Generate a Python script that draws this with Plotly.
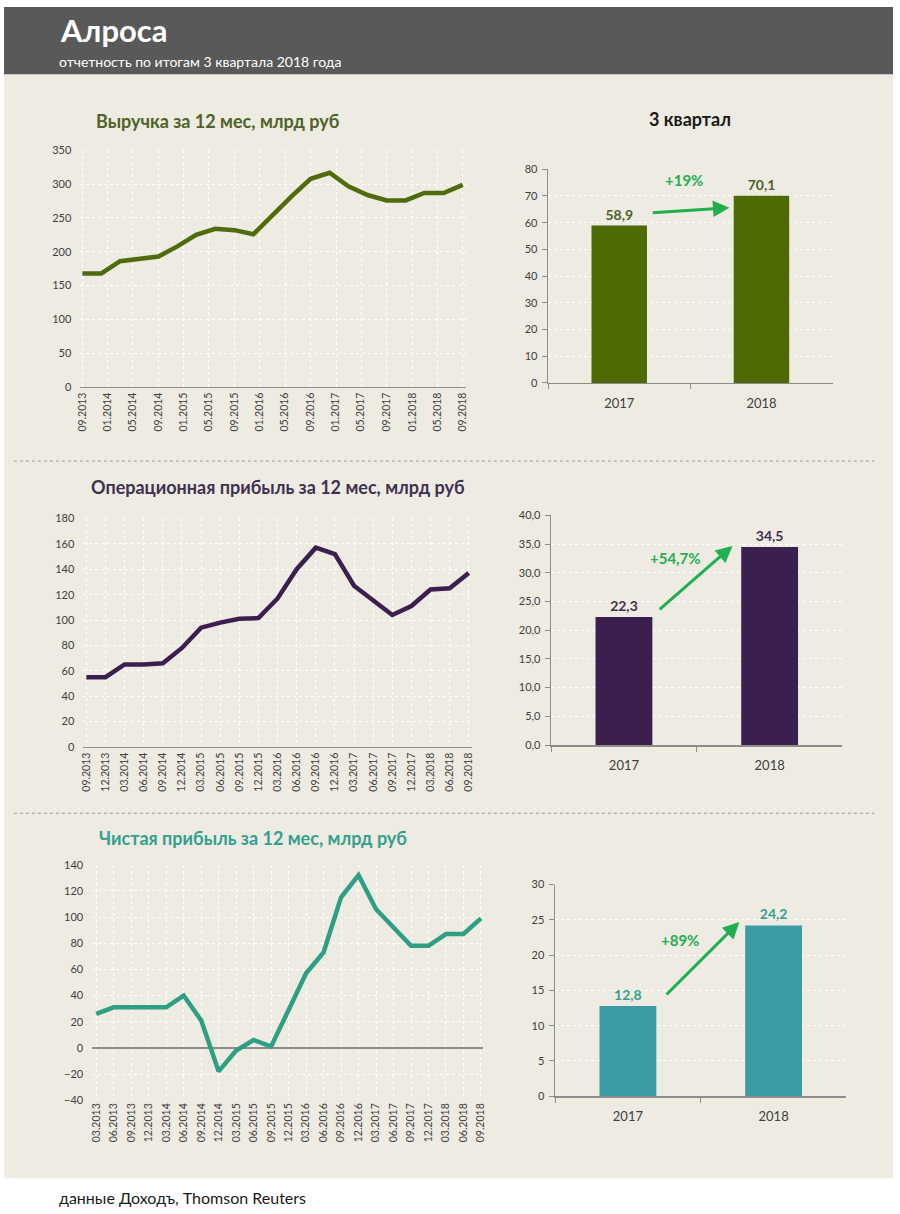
import plotly.graph_objects as go

W, H = 900, 1214
FONT = "Lato"

# ---------------- data ----------------
rev_dates = ["2013-09-01", "2013-12-01", "2014-03-01", "2014-06-01", "2014-09-01",
             "2014-12-01", "2015-03-01", "2015-06-01", "2015-09-01", "2015-12-01",
             "2016-03-01", "2016-06-01", "2016-09-01", "2016-12-01", "2017-03-01",
             "2017-06-01", "2017-09-01", "2017-12-01", "2018-03-01", "2018-06-01",
             "2018-09-01"]
rev_values = [168, 168, 186, 190, 193, 208, 225, 234, 232, 226, 255, 282, 308, 317,
              297, 284, 276, 276, 287, 287, 299]
rev_tickvals = ["2013-09-01", "2014-01-01", "2014-05-01", "2014-09-01", "2015-01-01",
                "2015-05-01", "2015-09-01", "2016-01-01", "2016-05-01", "2016-09-01",
                "2017-01-01", "2017-05-01", "2017-09-01", "2018-01-01", "2018-05-01",
                "2018-09-01"]
rev_ticktext = ["09.2013", "01.2014", "05.2014", "09.2014", "01.2015", "05.2015",
                "09.2015", "01.2016", "05.2016", "09.2016", "01.2017", "05.2017",
                "09.2017", "01.2018", "05.2018", "09.2018"]

op_cats = ["09.2013", "12.2013", "03.2014", "06.2014", "09.2014", "12.2014", "03.2015",
           "06.2015", "09.2015", "12.2015", "03.2016", "06.2016", "09.2016", "12.2016",
           "03.2017", "06.2017", "09.2017", "12.2017", "03.2018", "06.2018", "09.2018"]
op_values = [55, 55, 65, 65, 66, 78, 94, 98, 101, 101.5, 117, 140, 157, 152, 127, 116,
             104, 111, 124, 125, 137]

net_cats = ["03.2013", "06.2013", "09.2013", "12.2013", "03.2014", "06.2014", "09.2014",
            "12.2014", "03.2015", "06.2015", "09.2015", "12.2015", "03.2016", "06.2016",
            "09.2016", "12.2016", "03.2017", "06.2017", "09.2017", "12.2017", "03.2018",
            "06.2018", "09.2018"]
net_values = [26, 31, 31, 31, 31, 40, 21, -18, -2, 6, 1, 29, 57, 73, 115, 132, 106, 92,
              78, 78, 87, 87, 99]

q_years = ["2017", "2018"]
q_rev = [58.9, 70.1]
q_op = [22.3, 34.5]
q_net = [12.8, 24.2]
growth_labels = ["+19%", "+54,7%", "+89%"]

titles = ["Выручка за 12 мес, млрд руб", "Операционная прибыль за 12 мес, млрд руб",
          "Чистая прибыль за 12 мес, млрд руб", "3 квартал"]

# ---------------- style ----------------
BG = "#EEEBE2"
HEADER = "#595959"
OLIVE_LINE = "#4F6B0C"
OLIVE_BAR = "#4E6A03"
OLIVE_TXT = "#4F6228"
PURPLE = "#3B1F4F"
PURPLE_TXT = "#3F3151"
TEAL_LINE = "#2E9E84"
TEAL_BAR = "#3C9BA6"
TEAL_TXT = "#33A090"
GREEN = "#1FAF4F"
TICK = "#404040"
AXIS = "#8C8C8C"


def xd(a, b):
    return [a / W, b / W]


def yd(top, bottom):
    return [1 - bottom / H, 1 - top / H]


fig = go.Figure()

fig.add_trace(go.Scatter(x=rev_dates, y=rev_values, mode="lines",
                         line=dict(color=OLIVE_LINE, width=4.5), xaxis="x", yaxis="y"))
fig.add_trace(go.Scatter(x=op_cats, y=op_values, mode="lines",
                         line=dict(color=PURPLE, width=4.5), xaxis="x2", yaxis="y2"))
fig.add_trace(go.Scatter(x=net_cats, y=net_values, mode="lines",
                         line=dict(color=TEAL_LINE, width=4.5), xaxis="x3", yaxis="y3"))

bar_specs = [(q_rev, OLIVE_BAR, OLIVE_TXT, "x4", "y4"),
             (q_op, PURPLE, PURPLE_TXT, "x5", "y5"),
             (q_net, TEAL_BAR, TEAL_TXT, "x6", "y6")]
for vals, col, tcol, xa, ya in bar_specs:
    fig.add_trace(go.Bar(x=q_years, y=vals, marker=dict(color=col, line=dict(width=0)),
                         width=0.39, texttemplate="<b>%{y:.1f}</b>", textposition="outside",
                         textfont=dict(color=tcol, size=14, family=FONT),
                         cliponaxis=False, xaxis=xa, yaxis=ya))

grid = dict(showgrid=True, gridcolor="#FFFFFF", griddash="dot", gridwidth=1)
tickfont = dict(family=FONT, size=11, color=TICK)
xtickfont = dict(family=FONT, size=10.5, color=TICK)

layout = dict(
    width=W, height=H, margin=dict(l=0, r=0, t=0, b=0),
    paper_bgcolor="#FFFFFF", plot_bgcolor="rgba(0,0,0,0)",
    showlegend=False, separators=", ", font=dict(family=FONT),
    # line chart 1
    xaxis=dict(domain=xd(77, 466), anchor="y", type="date",
               range=["2013-08-22", "2018-09-16"], tickvals=rev_tickvals,
               ticktext=rev_ticktext, tickangle=-90, tickfont=xtickfont,
               showline=True, linecolor=AXIS, linewidth=1.5, ticks="", **grid),
    yaxis=dict(domain=yd(145, 384), anchor="x", range=[0, 350], dtick=50,
               tickfont=tickfont, ticklabelstandoff=8, zeroline=False, **grid),
    # line chart 2
    xaxis2=dict(domain=xd(80, 472), anchor="y2", type="category",
                range=[-0.16, 20.16], tickangle=-90, tickfont=xtickfont,
                showline=True, linecolor=AXIS, linewidth=1.5, ticks="", **grid),
    yaxis2=dict(domain=yd(517, 748), anchor="x2", range=[0, 180], dtick=20,
                tickfont=tickfont, ticklabelstandoff=8, zeroline=False, **grid),
    # line chart 3
    xaxis3=dict(domain=xd(89, 483), anchor="y3", type="category",
                range=[-0.23, 22.1], tickangle=-90, tickfont=xtickfont,
                showline=False, ticks="", **grid),
    yaxis3=dict(domain=yd(867, 1105), anchor="x3", range=[-40, 140], dtick=20,
                tickfont=tickfont, ticklabelstandoff=8, zeroline=True,
                zerolinecolor=AXIS, zerolinewidth=1.5, **grid),
)

bar_axes = [("4", xd(549, 836), yd(164, 380), [0, 80], 10, None),
            ("5", xd(552, 846), yd(514, 746), [0, 40], 5, ".1f"),
            ("6", xd(556, 850), yd(887, 1101), [0, 30], 5, None)]
for n, xdom, ydom, yr, dt, fmt in bar_axes:
    layout["xaxis" + n] = dict(domain=xdom, anchor="y" + n, type="category",
                               range=[-0.5, 1.5], showline=True, linecolor=AXIS,
                               linewidth=1.5, ticks="outside", tickson="boundaries",
                               ticklen=5, tickcolor=AXIS, showgrid=False,
                               tickfont=dict(family=FONT, size=13, color=TICK),
                               ticklabelstandoff=8)
    ya = dict(domain=ydom, anchor="x" + n, range=yr, dtick=dt, showline=True,
              linecolor=AXIS, linewidth=1.5, ticks="outside", ticklen=5,
              tickcolor=AXIS, tickfont=dict(family=FONT, size=11, color=TICK),
              zeroline=False, ticklabelstandoff=2, **grid)
    if fmt:
        ya["tickformat"] = fmt
    layout["yaxis" + n] = ya

fig.update_layout(**layout)

# background shapes
fig.add_shape(type="rect", xref="paper", yref="paper", x0=0, x1=897 / W,
              y0=1 - 1184 / H, y1=1, fillcolor=BG, line_width=0, layer="below")
fig.add_shape(type="rect", xref="paper", yref="paper", x0=0, x1=897 / W,
              y0=1 - 68 / H, y1=1, fillcolor=HEADER, line_width=0, layer="below")
for ys in (459, 815):
    fig.add_shape(type="line", xref="paper", yref="paper", x0=10 / W, x1=878 / W,
                  y0=1 - ys / H, y1=1 - ys / H, line=dict(color="#9A9A9A", width=1, dash="dot"))

def ann(text, x, y, size, color, xanchor="center", bold=True):
    fig.add_annotation(text=("<b>%s</b>" % text) if bold else text, xref="paper", yref="paper",
                       x=x / W, y=1 - y / H, xanchor=xanchor, yanchor="middle",
                       showarrow=False, font=dict(family=FONT, size=size, color=color))

ann("Алроса", 54, 23, 31, "#FFFFFF", xanchor="left")
ann("отчетность по итогам 3 квартала 2018 года", 53, 55, 14, "#FFFFFF", xanchor="left", bold=False)
ann(titles[0], 216, 115, 18, OLIVE_TXT)
ann(titles[1], 276, 485, 18, PURPLE_TXT)
ann(titles[2], 251, 840, 18, TEAL_TXT)
ann(titles[3], 692, 113, 18, "#1A1A1A")
ann("данные Доходъ, Thomson Reuters", 53, 1203, 16, "#1A1A1A", xanchor="left", bold=False)

# growth arrows (data coordinates of bar axes)
arrows = [("4", (0.225, 63.7), (0.775, 65.6), (0.455, 75.9)),
          ("5", (0.235, 23.4), (0.745, 34.7), (0.357, 32.6)),
          ("6", (0.255, 14.2), (0.765, 24.7), (0.357, 22.1))]
for i, (n, tail, head, lab) in enumerate(arrows):
    fig.add_annotation(x=head[0], y=head[1], ax=tail[0], ay=tail[1],
                       xref="x" + n, yref="y" + n, axref="x" + n, ayref="y" + n,
                       text="", showarrow=True, arrowhead=2, arrowsize=1.1,
                       arrowwidth=3, arrowcolor=GREEN, standoff=0, startstandoff=0)
    fig.add_annotation(x=lab[0], y=lab[1], xref="x" + n, yref="y" + n,
                       text="<b>%s</b>" % growth_labels[i], showarrow=False,
                       font=dict(family=FONT, size=15, color=GREEN))

css_fix = (
    "var s=document.createElement('style');"
    "s.textContent='html,body{margin:0!important;padding:0!important;overflow:hidden!important;}"
    ".plotly-graph-div{position:fixed!important;top:0!important;left:0!important;}';"
    "document.head.appendChild(s);"
)
fig.write_html("out.html", config={"displayModeBar": False, "staticPlot": True},
               post_script=css_fix)
